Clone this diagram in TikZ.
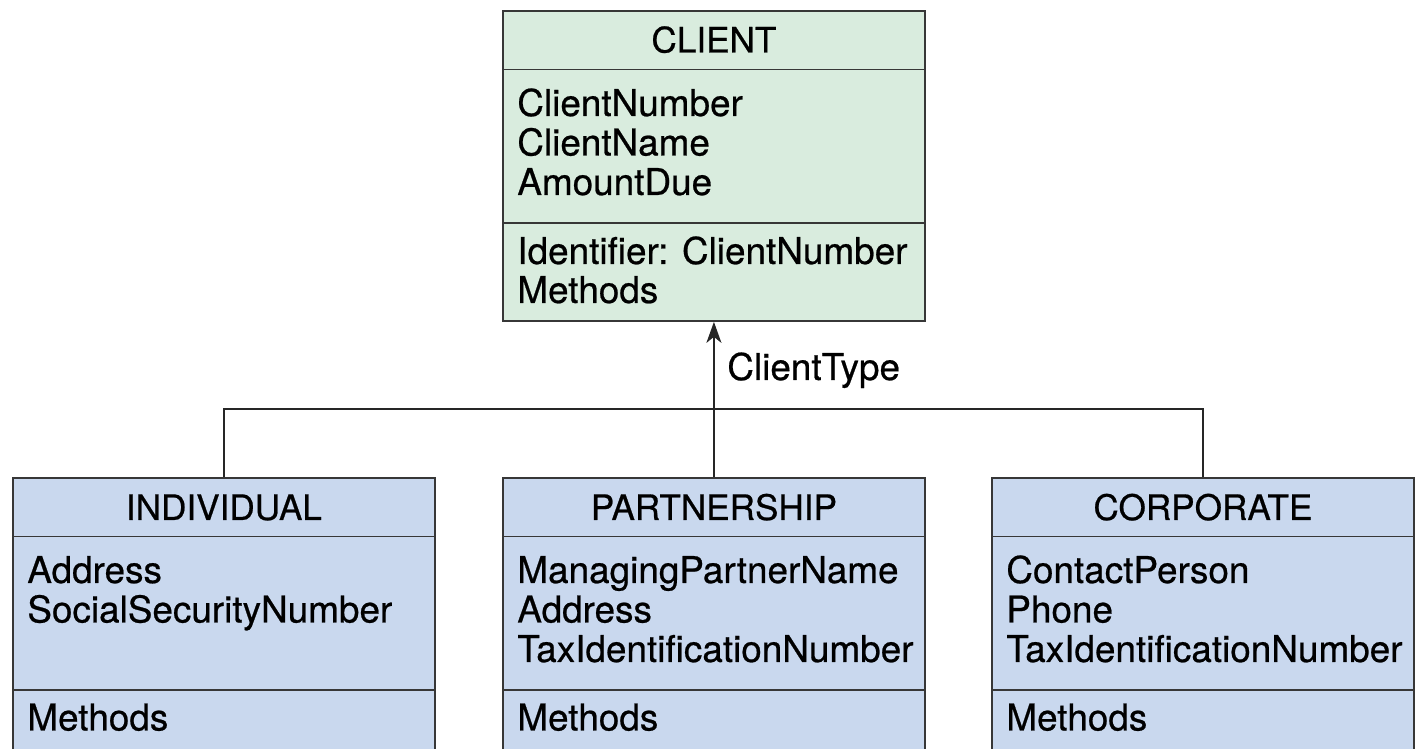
\documentclass[tikz,border=0pt]{standalone}
\usepackage{fontspec}
\setmainfont{TeX Gyre Heros}[FakeBold=0.6]
\usetikzlibrary{arrows.meta,calc,positioning}
\definecolor{supercol}{RGB}{217,236,222}
\definecolor{subcol}{RGB}{201,216,238}
\definecolor{edgecol}{RGB}{55,55,55}

\tikzset{
  clsbox/.style={draw=edgecol, fill=#1, line width=1.1pt, anchor=north west,
                 minimum width=8.44cm, inner sep=0pt},
  divider/.style={draw=edgecol, line width=1.1pt},
  clstitle/.style={anchor=base, inner sep=0pt, font=\fontsize{20}{22}\selectfont},
  attr/.style={anchor=base west, inner sep=0pt, font=\fontsize{21}{24}\selectfont},
  link/.style={draw=black!85, line width=1pt}
}

\begin{document}
\begin{tikzpicture}[x=0.02cm,y=-0.02cm]
\useasboundingbox (0,0) rectangle (1421,749);

% superclass and subclasses
\node[clsbox=supercol, minimum height=6.2cm] (client) at (502,10) {};
\node[clsbox=subcol, minimum height=6.6cm] (indiv) at (12,477) {};
\node[clsbox=subcol, minimum height=6.6cm] (partner) at (502,477) {};
\node[clsbox=subcol, minimum height=6.6cm] (corp) at (991,477) {};

% compartments
\foreach \b in {client,indiv,partner,corp} {
  \draw[divider] ([yshift=-1.19cm]\b.north west) -- ([yshift=-1.19cm]\b.north east);
  \draw[divider] ([yshift=-4.26cm]\b.north west) -- ([yshift=-4.26cm]\b.north east);
}

% class names
\node[clstitle] (client-t) at ([yshift=-0.85cm]client.north) {CLIENT};
\node[clstitle] (indiv-t) at ([yshift=-0.86cm]indiv.north) {INDIVIDUAL};
\node[clstitle] (partner-t) at ([yshift=-0.86cm]partner.north) {PARTNERSHIP};
\node[clstitle] (corp-t) at ([yshift=-0.86cm]corp.north) {CORPORATE};

% attributes
\foreach \txt [count=\i] in {ClientNumber,ClientName,AmountDue}
  \node[attr] (client-a\i) at ([xshift=0.3cm,yshift={-1.33cm-0.79cm*\i}]client.north west) {\txt};
\foreach \txt [count=\i] in {Address,SocialSecurityNumber}
  \node[attr] (indiv-a\i) at ([xshift=0.3cm,yshift={-1.33cm-0.79cm*\i}]indiv.north west) {\txt};
\foreach \txt [count=\i] in {ManagingPartnerName,Address,TaxIdentificationNumber}
  \node[attr] (partner-a\i) at ([xshift=0.3cm,yshift={-1.33cm-0.79cm*\i}]partner.north west) {\txt};
\foreach \txt [count=\i] in {ContactPerson,Phone,TaxIdentificationNumber}
  \node[attr] (corp-a\i) at ([xshift=0.3cm,yshift={-1.33cm-0.79cm*\i}]corp.north west) {\txt};

% methods
\node[attr] (client-m1) at ([xshift=0.3cm,yshift=-5.08cm]client.north west) {Identifier: ClientNumber};
\node[attr] (client-m2) at ([xshift=0.3cm,yshift=-5.86cm]client.north west) {Methods};
\foreach \b in {indiv,partner,corp}
  \node[attr] (\b-m) at ([xshift=0.3cm,yshift=-5.07cm]\b.north west) {Methods};

% generalisation
\coordinate (fork) at (713,409);
\draw[link] (indiv.north) |- (fork) -| (corp.north);
\draw[link,-{Stealth[length=0.42cm,width=0.3cm,inset=0.12cm]}] (partner.north) -- (client.south);
\node[attr] (ctype) at (727,380) {ClientType};
\end{tikzpicture}
\end{document}
